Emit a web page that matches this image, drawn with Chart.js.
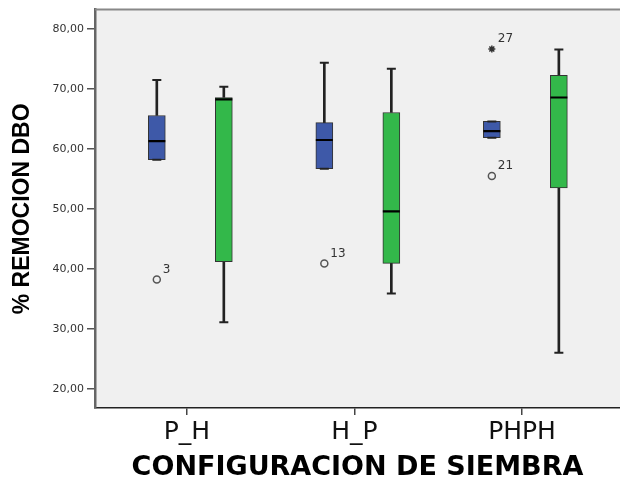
<!DOCTYPE html>
<html>
<head>
<meta charset="utf-8">
<script src="https://cdn.jsdelivr.net/npm/chart.js@4/dist/chart.umd.min.js"></script>
<style>
html,body{margin:0;padding:0;background:#fff;}
#wrap{width:620px;height:484px;}
</style>
</head>
<body>
<div id="wrap"><canvas id="c" width="620" height="484"></canvas></div>
<script>
// ---- data ----
const categories = ['P_H', 'H_P', 'PHPH'];
const yTicks = [20, 30, 40, 50, 60, 70, 80];

// series 1 (blue)
const s1Min = [58.2, 56.7, 61.9];
const s1Q1  = [58.2, 56.7, 61.9];
const s1Med = [61.3, 61.5, 63.0];
const s1Q3  = [65.6, 64.4, 64.6];
const s1Max = [71.5, 74.4, 64.6];

// series 2 (green)
const s2Min = [31.1, 35.9, 26.0];
const s2Q1  = [41.2, 40.9, 53.5];
const s2Med = [68.3, 49.6, 68.6];
const s2Q3  = [68.6, 66.1, 72.3];
const s2Max = [70.4, 73.4, 76.6];

// outliers (series 1)
const outlierCat = [0, 1, 2];
const outlierVal = [38.2, 40.9, 55.5];
const outlierId  = ['3', '13', '21'];
// extreme values (series 1)
const extremeCat = [2];
const extremeVal = [76.7];
const extremeId  = ['27'];

// ---- build chart ----
const OFF1 = -0.18, OFF2 = 0.22;
const BLUE = '#3E59A8', GREEN = '#33B84A';

function boxes(q1, q3, off) { return q1.map((v, i) => ({x: i + off, y: [v, q3[i]]})); }
function whiskers(mn, q1, q3, mx, off) {
  const out = [];
  mn.forEach((v, i) => {
    if (q1[i] > v) out.push({x: i + off, y: [v, q1[i]]});
    if (mx[i] > q3[i]) out.push({x: i + off, y: [q3[i], mx[i]]});
  });
  return out;
}
function pts(vals, off) { return vals.map((v, i) => ({x: i + off, y: v})); }
function catPts(cats, vals, off) { return vals.map((v, i) => ({x: cats[i] + off, y: v})); }

const whiskerStyle = {type: 'bar', backgroundColor: '#222', borderWidth: 0, barThickness: 2, grouped: false, order: 6};
const boxStyle = {type: 'bar', borderColor: '#333', borderWidth: 1, borderSkipped: false, barThickness: 17, grouped: false, order: 5};
const capStyle = {type: 'line', showLine: false, pointStyle: 'line', pointRadius: 4.5, pointBorderWidth: 2, borderColor: '#222', backgroundColor: '#222', order: 4};
const medStyle = {type: 'line', showLine: false, pointStyle: 'line', pointRadius: 8.5, pointBorderWidth: 2.2, borderColor: '#000', backgroundColor: '#000', order: 3};

const datasets = [
  Object.assign({label: 'w1', data: whiskers(s1Min, s1Q1, s1Q3, s1Max, OFF1)}, whiskerStyle),
  Object.assign({label: 'w2', data: whiskers(s2Min, s2Q1, s2Q3, s2Max, OFF2)}, whiskerStyle),
  Object.assign({label: 'b1', data: boxes(s1Q1, s1Q3, OFF1), backgroundColor: BLUE}, boxStyle),
  Object.assign({label: 'b2', data: boxes(s2Q1, s2Q3, OFF2), backgroundColor: GREEN}, boxStyle),
  Object.assign({label: 'c1min', data: pts(s1Min, OFF1)}, capStyle),
  Object.assign({label: 'c1max', data: pts(s1Max, OFF1)}, capStyle),
  Object.assign({label: 'c2min', data: pts(s2Min, OFF2)}, capStyle),
  Object.assign({label: 'c2max', data: pts(s2Max, OFF2)}, capStyle),
  Object.assign({label: 'm1', data: pts(s1Med, OFF1)}, medStyle),
  Object.assign({label: 'm2', data: pts(s2Med, OFF2)}, medStyle),
  {label: 'out', type: 'line', showLine: false, data: catPts(outlierCat, outlierVal, OFF1), ids: outlierId,
   pointStyle: 'circle', pointRadius: 3.5, pointBorderWidth: 1.5, borderColor: '#555', backgroundColor: 'rgba(0,0,0,0)', order: 1},
  {label: 'ext', type: 'line', showLine: false, data: catPts(extremeCat, extremeVal, OFF1), ids: extremeId,
   pointStyle: 'star', pointRadius: 3.5, pointBorderWidth: 1.5, borderColor: '#333', backgroundColor: '#333', order: 1}
];

const framePlugin = {
  id: 'frame',
  beforeDraw(chart) {
    const {ctx, chartArea: a} = chart;
    ctx.save();
    ctx.fillStyle = '#fff';
    ctx.fillRect(0, 0, chart.width, chart.height);
    ctx.fillStyle = '#F0F0F0';
    ctx.fillRect(a.left, a.top, a.right - a.left, a.bottom - a.top);
    ctx.restore();
  },
  afterDraw(chart) {
    const {ctx, chartArea: a} = chart;
    ctx.save();
    ctx.strokeStyle = '#888';
    ctx.lineWidth = 2;
    ctx.beginPath();
    ctx.moveTo(a.left, a.top);
    ctx.lineTo(a.right, a.top);
    ctx.stroke();
    // outlier case labels
    ctx.fillStyle = '#333';
    ctx.font = '12px "DejaVu Sans"';
    ctx.textAlign = 'left';
    ctx.textBaseline = 'middle';
    chart.data.datasets.forEach((ds, di) => {
      if (!ds.ids) return;
      chart.getDatasetMeta(di).data.forEach((el, i) => {
        ctx.fillText(ds.ids[i], el.x + 6, el.y - 10);
      });
    });
    ctx.restore();
  }
};

new Chart(document.getElementById('c'), {
  type: 'bar',
  data: {datasets},
  plugins: [framePlugin],
  options: {
    responsive: false,
    animation: false,
    events: [],
    layout: {autoPadding: false, padding: {top: 7, right: 0, left: 0, bottom: 0}},
    plugins: {legend: {display: false}, tooltip: {enabled: false}},
    scales: {
      x: {
        type: 'linear',
        min: -0.549, max: 2.585,
        offset: false,
        afterFit: s => { s.height = 76; },
        afterBuildTicks: s => { s.ticks = categories.map((c, i) => ({value: i})); },
        ticks: {
          callback: v => categories[v] !== undefined ? categories[v] : '',
          font: {family: '"DejaVu Sans"', size: 25},
          color: '#111',
          padding: 2,
          maxRotation: 0,
          autoSkip: false
        },
        grid: {display: true, offset: false, drawOnChartArea: false, drawTicks: true, tickLength: 7, color: '#444', lineWidth: 1.5},
        border: {display: true, color: '#222', width: 1.5},
        title: {
          display: true,
          text: 'CONFIGURACION DE SIEMBRA',
          font: {family: '"DejaVu Sans"', size: 27, weight: 'bold'},
          color: '#000',
          padding: {top: 0, bottom: 0}
        }
      },
      y: {
        type: 'linear',
        min: 16.77, max: 83.27,
        afterFit: s => { s.width = 95; },
        afterBuildTicks: s => { s.ticks = yTicks.map(v => ({value: v})); },
        ticks: {
          callback: v => v.toFixed(2).replace('.', ','),
          font: {family: '"DejaVu Sans"', size: 11},
          color: '#333',
          padding: 3
        },
        grid: {display: true, offset: false, drawOnChartArea: false, drawTicks: true, tickLength: 8, color: '#555', lineWidth: 1.5},
        border: {display: true, color: '#666', width: 2.5},
        title: {
          display: true,
          text: '% REMOCION DBO',
          font: {family: '"Liberation Sans"', size: 23, weight: 'bold'},
          color: '#000',
          padding: {top: 9, bottom: 0}
        }
      }
    }
  }
});
</script>
</body>
</html>
